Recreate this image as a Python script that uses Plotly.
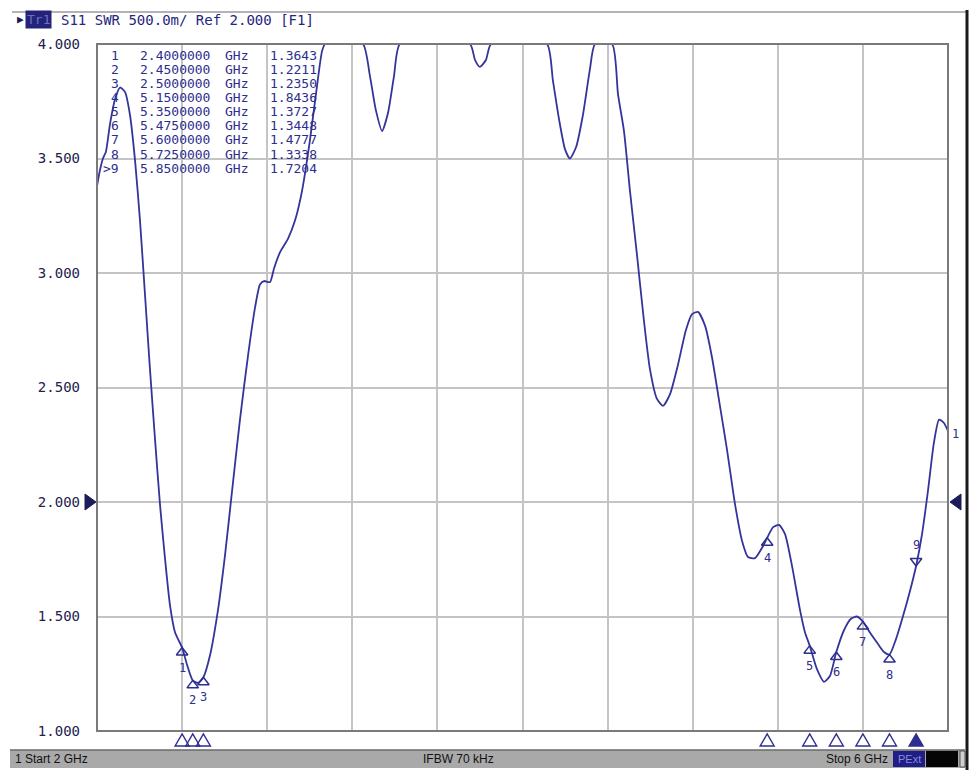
import plotly.graph_objects as go

# ---------------- data ----------------
freq_ghz = [2.000, 2.014, 2.028, 2.042, 2.061, 2.085, 2.108, 2.132, 2.155, 2.179,
            2.202, 2.226, 2.249, 2.273, 2.296, 2.320, 2.343, 2.367, 2.400, 2.423,
            2.450, 2.475, 2.500, 2.531, 2.569, 2.602, 2.635, 2.672, 2.710, 2.743,
            2.766, 2.785, 2.813, 2.832, 2.860, 2.898, 2.931, 2.964, 3.001, 3.029,
            3.058, 3.072, 3.166, 3.250, 3.283, 3.311, 3.340, 3.368, 3.396, 3.424,
            3.589, 3.753, 3.777, 3.800, 3.828, 3.852, 3.988, 4.115, 4.143, 4.172,
            4.200, 4.223, 4.252, 4.284, 4.317, 4.341, 4.421, 4.449, 4.477, 4.505,
            4.538, 4.571, 4.599, 4.632, 4.660, 4.693, 4.731, 4.768, 4.797, 4.825,
            4.858, 4.891, 4.928, 4.961, 4.999, 5.032, 5.060, 5.093, 5.126, 5.150,
            5.178, 5.206, 5.234, 5.267, 5.304, 5.328, 5.350, 5.384, 5.417, 5.445,
            5.475, 5.511, 5.544, 5.572, 5.600, 5.633, 5.671, 5.699, 5.725, 5.755,
            5.788, 5.821, 5.850, 5.878, 5.906, 5.934, 5.958, 5.981, 6.000]
swr = [3.38, 3.45, 3.50, 3.53, 3.65, 3.76, 3.81, 3.79, 3.69, 3.49,
       3.23, 2.90, 2.58, 2.27, 1.99, 1.75, 1.55, 1.43, 1.364, 1.29,
       1.221, 1.21, 1.235, 1.33, 1.53, 1.77, 2.05, 2.36, 2.64, 2.85,
       2.95, 2.965, 2.96, 3.02, 3.09, 3.15, 3.23, 3.36, 3.58, 3.78,
       3.97, 4.0, 4.0, 4.0, 3.86, 3.71, 3.62, 3.70, 3.86, 4.0,
       4.0, 4.0, 3.93, 3.90, 3.93, 4.0, 4.0, 4.0, 3.84, 3.67,
       3.54, 3.50, 3.55, 3.69, 3.89, 4.0, 4.0, 3.78, 3.62, 3.36,
       3.08, 2.79, 2.58, 2.45, 2.42, 2.47, 2.60, 2.75, 2.82, 2.83,
       2.77, 2.63, 2.42, 2.23, 1.99, 1.83, 1.76, 1.755, 1.80, 1.8436,
       1.89, 1.90, 1.86, 1.72, 1.53, 1.43, 1.3727, 1.27, 1.215, 1.24,
       1.3448, 1.44, 1.49, 1.50, 1.4777, 1.43, 1.38, 1.345, 1.3338, 1.40,
       1.50, 1.61, 1.7204, 1.86, 2.05, 2.26, 2.36, 2.345, 2.31]

marker_ids = [1, 2, 3, 4, 5, 6, 7, 8, 9]
marker_freq = [2.40, 2.45, 2.50, 5.15, 5.35, 5.475, 5.60, 5.725, 5.85]
marker_swr = [1.3643, 1.2211, 1.2350, 1.8436, 1.3727, 1.3448, 1.4777, 1.3338, 1.7204]
active_marker = 9

start_ghz, stop_ghz = 2.0, 6.0
y_min, y_max = 1.0, 4.0
y_ticks = [1.0, 1.5, 2.0, 2.5, 3.0, 3.5, 4.0]
ref_level = 2.0
header_text = "S11 SWR 500.0m/ Ref 2.000 [F1]"
status_left = "1 Start 2 GHz"
status_mid = "IFBW 70 kHz"
status_right = "Stop 6 GHz"

# ---------------- style ----------------
OFF = 8                       # page body margin of the html page
W, H = 978 - OFF, 782 - OFF
L, R, T, B = 97, 948, 44, 731  # plot area in window pixels
NAVY = "#2e2e8e"
DARK = "#22224e"
MONO = "DejaVu Sans Mono"
NB = "\u00a0"


def px_x(px):
    return (px - L) / (R - L)


def px_y(py):
    return (B - py) / (B - T)


fig = go.Figure()

# main trace
fig.add_trace(go.Scatter(x=freq_ghz, y=swr, mode="lines",
                         line=dict(color="#34349a", width=1.8, shape="spline", smoothing=0.6),
                         hoverinfo="skip", showlegend=False))

# trace markers
is_act = [m == active_marker for m in marker_ids]
fig.add_trace(go.Scatter(
    x=marker_freq, y=marker_swr, mode="markers",
    marker=dict(symbol="triangle-up-open", size=10, color=NAVY,
                angle=[180 if a else 0 for a in is_act], standoff=5,
                line=dict(width=1.5, color=NAVY)),
    cliponaxis=False, hoverinfo="skip", showlegend=False))

annotations = []
for m, f, v, a in zip(marker_ids, marker_freq, marker_swr, is_act):
    annotations.append(dict(x=f, y=v, xref="x", yref="y", text=str(m), showarrow=False,
                            yanchor="bottom" if a else "top", yshift=12 if a else -11,
                            font=dict(family=MONO, size=12, color=NAVY)))

shapes = []
# stimulus markers below the grid
for f, a in zip(marker_freq, is_act):
    shapes.append(dict(type="path", xref="x", yref="paper", xsizemode="pixel", ysizemode="pixel",
                       xanchor=f, yanchor=0, path="M -7,-15 L 7,-15 L 0,-3 Z",
                       fillcolor=NAVY if a else "rgba(0,0,0,0)",
                       line=dict(color=NAVY, width=1.4)))

# reference level arrows
shapes.append(dict(type="path", xref="paper", yref="y", xsizemode="pixel", ysizemode="pixel",
                   xanchor=0, yanchor=ref_level, path="M -12,8 L -1,0 L -12,-8 Z",
                   fillcolor="#1c1c5a", line=dict(color="#1c1c5a", width=1)))
shapes.append(dict(type="path", xref="paper", yref="y", xsizemode="pixel", ysizemode="pixel",
                   xanchor=1, yanchor=ref_level, path="M 2,0 L 13,8 L 13,-8 Z",
                   fillcolor="#1c1c5a", line=dict(color="#1c1c5a", width=1)))

# trace number at end
annotations.append(dict(x=freq_ghz[-1], y=swr[-1], xref="x", yref="y", text="1",
                        showarrow=False, xanchor="left", xshift=2, yshift=-3,
                        font=dict(family=MONO, size=12, color=NAVY)))

# marker table (columns: id, frequency, unit, value)
for i, (m, f, v) in enumerate(zip(marker_ids, marker_freq, marker_swr)):
    lab = (">" if m == active_marker else "") + str(m)
    yy = px_y(55 + 14.15 * i)
    cols = [(121, "right", lab), (138, "left", f"{f:.7f}"), (223, "left", "GHz"),
            (268, "left", f"{v:.4f}")]
    for cx, anc, txt in cols:
        annotations.append(dict(x=px_x(cx), y=yy, xref="paper", yref="paper",
                                text=txt, showarrow=False, xanchor=anc, yanchor="middle",
                                font=dict(family=MONO, size=13, color=NAVY)))

# header
annotations.append(dict(x=px_x(15), y=px_y(20), xref="paper", yref="paper", text="▶",
                        showarrow=False, xanchor="left", yanchor="middle",
                        font=dict(family=MONO, size=11, color="#1c1c5a")))
annotations.append(dict(x=px_x(25), y=px_y(20), xref="paper", yref="paper", text="Tr1",
                        showarrow=False, xanchor="left", yanchor="middle", bgcolor="#23237a",
                        borderpad=1, font=dict(family=MONO, size=13, color="#6f6fc0")))
annotations.append(dict(x=px_x(59), y=px_y(20), xref="paper", yref="paper",
                        text=header_text.replace(" ", NB),
                        showarrow=False, xanchor="left", yanchor="middle",
                        font=dict(family=MONO, size=14, color="#26267e")))

# status bar
STAT = "Liberation Sans Narrow, Liberation Sans, sans-serif"
annotations.append(dict(x=px_x(13), y=px_y(759), xref="paper", yref="paper", text=status_left,
                        showarrow=False, xanchor="left", yanchor="middle",
                        font=dict(family=STAT, size=12, color="#111111")))
annotations.append(dict(x=px_x(458), y=px_y(759), xref="paper", yref="paper", text=status_mid,
                        showarrow=False, xanchor="center", yanchor="middle",
                        font=dict(family=STAT, size=12, color="#111111")))
annotations.append(dict(x=px_x(890), y=px_y(759), xref="paper", yref="paper", text=status_right,
                        showarrow=False, xanchor="right", yanchor="middle",
                        font=dict(family=STAT, size=12, color="#111111")))
annotations.append(dict(x=px_x(909), y=px_y(759), xref="paper", yref="paper", text="PExt",
                        showarrow=False, xanchor="center", yanchor="middle",
                        font=dict(family=STAT, size=11, color="#8a8ad8")))

shapes += [
    # outer window frame
    dict(type="line", xref="paper", yref="paper", x0=px_x(12), x1=px_x(968), y0=px_y(12), y1=px_y(12),
         line=dict(color="#9a9a9a", width=1.5)),
    dict(type="line", xref="paper", yref="paper", x0=px_x(967), x1=px_x(967), y0=px_y(10), y1=px_y(770),
         line=dict(color="#1a1a1a", width=3)),
    # status bar
    dict(type="rect", xref="paper", yref="paper", x0=px_x(10), x1=px_x(965), y0=px_y(750), y1=px_y(768),
         fillcolor="#a9a9a9", line=dict(width=0), layer="below"),
    dict(type="line", xref="paper", yref="paper", x0=px_x(10), x1=px_x(965), y0=px_y(750), y1=px_y(750),
         line=dict(color="#6a6a6a", width=1.5)),
    dict(type="rect", xref="paper", yref="paper", x0=px_x(893), x1=px_x(925), y0=px_y(751), y1=px_y(767),
         fillcolor="#1e1e86", line=dict(width=0), layer="below"),
    dict(type="rect", xref="paper", yref="paper", x0=px_x(926), x1=px_x(958), y0=px_y(751), y1=px_y(767),
         fillcolor="#050505", line=dict(width=0), layer="below"),
    dict(type="rect", xref="paper", yref="paper", x0=px_x(960), x1=px_x(965), y0=px_y(751), y1=px_y(767),
         fillcolor="#d0d0d0", line=dict(color="#555", width=1), layer="below"),
    # plot frame
    dict(type="rect", xref="paper", yref="paper", x0=0, x1=1, y0=0, y1=1,
         line=dict(color="#7a7a7a", width=2)),
]

fig.update_layout(
    width=W, height=H,
    margin=dict(l=L - OFF, r=W - (R - OFF), t=T - OFF, b=H - (B - OFF)),
    paper_bgcolor="white", plot_bgcolor="white",
    showlegend=False,
    annotations=annotations, shapes=shapes,
    xaxis=dict(range=[start_ghz, stop_ghz], dtick=0.4, tick0=start_ghz, showticklabels=False,
               showgrid=True, gridcolor="#c4c4c4", gridwidth=1.5, zeroline=False, ticks="",
               fixedrange=True),
    yaxis=dict(range=[y_min, y_max], tickvals=y_ticks, ticktext=[f"{t:.3f}" for t in y_ticks],
               showgrid=True, gridcolor="#c4c4c4", gridwidth=1.5, zeroline=False, ticks="",
               ticklabelstandoff=16,
               tickfont=dict(family=MONO, size=14, color=DARK), fixedrange=True),
)

fig.write_html("out.html")
